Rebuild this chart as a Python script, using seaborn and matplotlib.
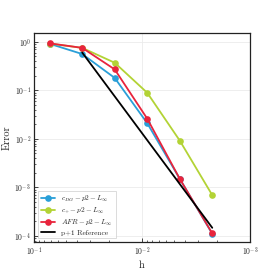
import numpy as np
import pandas as pd
import seaborn as sns
import matplotlib.pyplot as plt

# mesh sizes and L_inf errors (p2)
h = [1/14, 1/28, 1/56, 1/112, 1/224, 1/448]
err_cdg = [0.91, 0.56, 0.18, 0.021, 0.0015, 1.1e-4]
err_cplus = [0.92, 0.75, 0.37, 0.089, 0.0092, 6.9e-4]
err_afr = [0.93, 0.75, 0.27, 0.026, 0.0015, 1.12e-4]

# p+1 reference line
h_ref = [1/28, 1/448]
err_ref = [0.6, 0.6 / 16**3]

sns.set_style("whitegrid")
plt.rcParams['font.family'] = 'serif'
plt.rcParams['font.serif'] = ['cmr10', 'DejaVu Serif']
plt.rcParams['mathtext.fontset'] = 'cm'
plt.rcParams['axes.formatter.use_mathtext'] = True

fig = plt.figure(figsize=(2.78, 2.78), dpi=100)
ax = fig.add_axes([0.122, 0.129, 0.777, 0.752])

series = [
    (err_cdg, '#2a9fd8', r'$c_{DG}-p2-L_{\infty}$'),
    (err_cplus, '#b3d335', r'$c_{+}-p2-L_{\infty}$'),
    (err_afr, '#e8243c', r'$AFR-p2-L_{\infty}$'),
]
for vals, col, lab in series:
    df = pd.DataFrame({'h': h, 'err': vals})
    sns.lineplot(data=df, x='h', y='err', ax=ax, color=col, marker='o',
                 markersize=4.8, markeredgewidth=0, linewidth=1.3, label=lab)

ref = pd.DataFrame({'h': h_ref, 'err': err_ref})
sns.lineplot(data=ref, x='h', y='err', ax=ax, color='black', linewidth=1.3,
             label='p+1 Reference')

ax.set_xscale('log')
ax.set_yscale('log')
ax.set_xlim(1e-1, 1e-3)
ax.set_ylim(10**-4.13, 10**0.18)
ax.set_xlabel('h', fontsize=7.5, labelpad=2)
ax.set_ylabel('Error', fontsize=7.5, labelpad=2)

ax.grid(True, which='major', color='#ebebeb', linewidth=0.6)
ax.grid(False, which='minor')
for s in ax.spines.values():
    s.set_color('#222222')
    s.set_linewidth(0.9)
ax.tick_params(which='both', direction='in', labelsize=5.5, top=False, right=False,
               left=True, bottom=True, pad=2)
ax.tick_params(which='major', length=3, width=0.6)
ax.tick_params(which='minor', length=1.5, width=0.5)

leg = ax.legend(loc='lower left', fontsize=5.3, frameon=True, handlelength=2,
                borderpad=0.4, labelspacing=0.25, fancybox=False)
leg.get_frame().set_edgecolor('#cccccc')
leg.get_frame().set_linewidth(0.6)

plt.savefig('out.png', dpi=100)
